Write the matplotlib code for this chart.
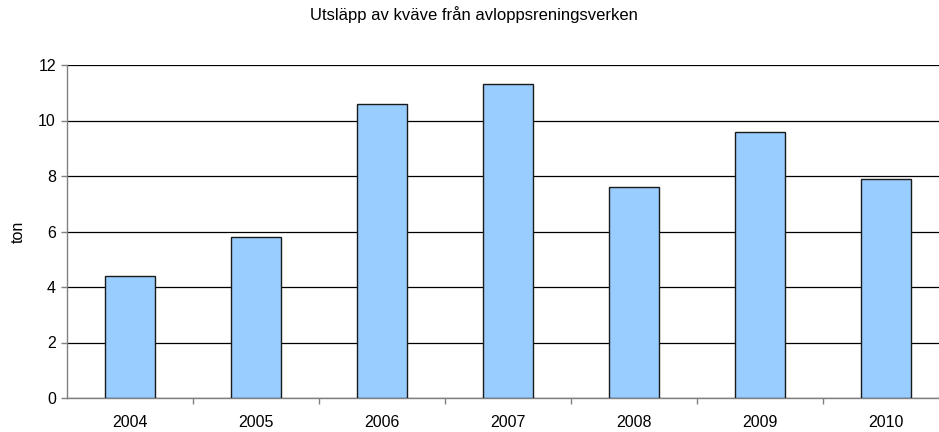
import numpy as np
import matplotlib.pyplot as plt

plt.rcParams['font.family'] = ['Liberation Sans', 'DejaVu Sans']

years = ['2004', '2005', '2006', '2007', '2008', '2009', '2010']
kvave = [4.4, 5.8, 10.6, 11.3, 7.6, 9.6, 7.9]

fig = plt.figure(figsize=(9.39, 4.32), dpi=100)
ax = fig.add_axes([67/939, 34/432, 882/939, 333/432])

x = np.arange(len(years))
ax.bar(x, kvave, width=0.4, color='#99CCFF', edgecolor='#1a1a1a', linewidth=1.0, zorder=3)

ax.set_xlim(-0.5, len(years) - 0.5)
ax.set_ylim(0, 12)
ax.set_yticks(np.arange(0, 13, 2))
ax.yaxis.grid(True, color='#000000', linewidth=0.9, zorder=0)

ax.set_xticks(x)
ax.set_xticklabels(years)
ax.set_xticks(np.arange(0.5, len(years) - 0.5, 1), minor=True)
ax.tick_params(axis='x', which='major', length=0, labelsize=11.5, pad=12)
ax.tick_params(axis='x', which='minor', length=4, color='#808080', width=1)
ax.tick_params(axis='y', length=4, color='#808080', width=1, labelsize=11.5, pad=4)

for s in ['top', 'right']:
    ax.spines[s].set_visible(False)
for s in ['left', 'bottom']:
    ax.spines[s].set_color('#808080')
    ax.spines[s].set_linewidth(1)

ax.set_ylabel('ton', fontsize=11.5, labelpad=9)
fig.text(0.505, 0.967, 'Utsläpp av kväve från avloppsreningsverken', ha='center', va='center', fontsize=12)

fig.savefig('out.png', dpi=100)
